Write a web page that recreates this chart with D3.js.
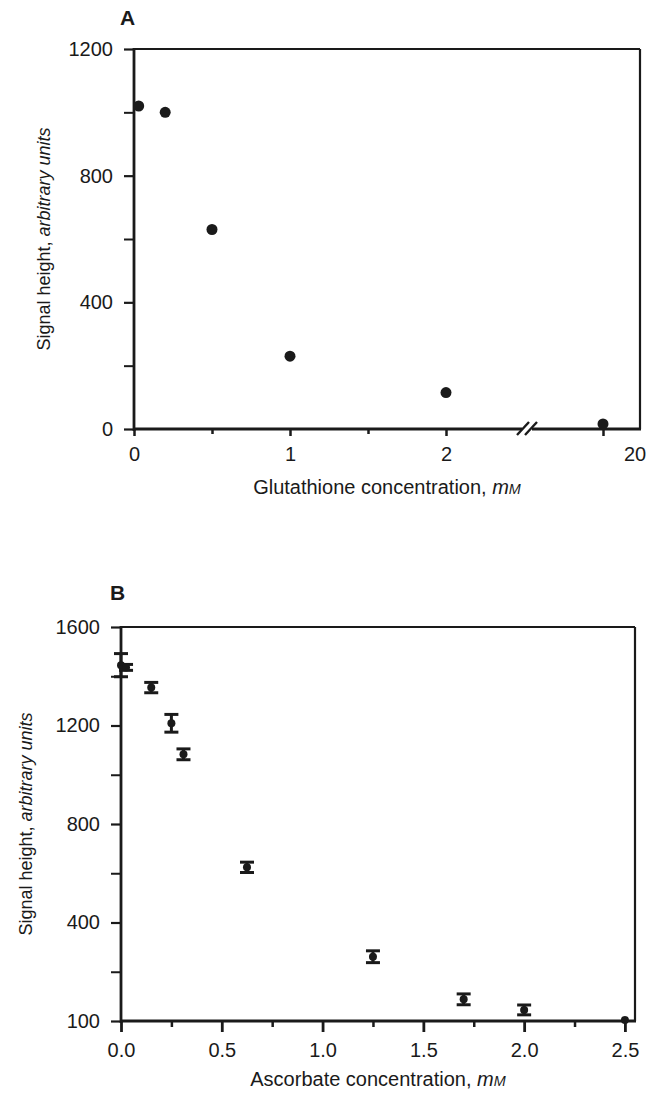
<!DOCTYPE html>
<html><head><meta charset="utf-8">
<script src="https://cdn.jsdelivr.net/npm/d3@7"></script>
<style>
body{margin:0;background:#fff}
text{font-family:"Liberation Sans",Arial,Helvetica,sans-serif;fill:#1a1a1a}
</style>
</head><body><svg id="c" width="661" height="1094"></svg>
<script>
// ---- Panel A data ----
const glutConc = [0.03, 0.2, 0.5, 1.0, 2.0, 20];
const glutSignal = [1020, 1000, 630, 230, 115, 16];
const glutYTicks = [0, 400, 800, 1200];
const glutYMinor = [200, 600, 1000];
const glutXTicks = [0, 1, 2];
const glutXMinor = [0.5, 1.5];
const glutXBreakTick = [20];
const glutXBreakLabel = ["20"];

// ---- Panel B data ----
const ascConc = [0, 0.025, 0.15, 0.25, 0.31, 0.625, 1.25, 1.7, 2.0, 2.5];
const ascSignal = [1445, 1436, 1354, 1209, 1083, 624, 261, 88, 45, 4];
const ascErr = [47, 12, 21, 36, 22, 21, 24, 22, 20, 0];
const ascYTickValues = [0, 400, 800, 1200, 1600];
const ascYTickLabels = ["100", "400", "800", "1200", "1600"];
const ascYMinor = [200, 600, 1000, 1400];
const ascXTicks = [0, 0.5, 1, 1.5, 2, 2.5];
const ascXMinor = [0.25, 0.75, 1.25, 1.75, 2.25];

const svg = d3.select("#c");
const ink = "#1a1a1a";
const FS = 20;      // tick labels
const FT = 20;      // x titles
const FY = 18;      // y titles
const FP = 21;      // panel letters

function styleAxis(g, sw) {
  g.selectAll("path.domain").remove();
  g.selectAll("line").attr("stroke", ink).attr("stroke-width", sw);
  g.selectAll("text").attr("font-size", FS).attr("fill", ink);
}

// ================= Panel A =================
const A = {l: 134, r: 640, t: 49, b: 429};
const xA = d3.scaleLinear().domain([0, 2.5]).range([A.l, A.l + 2.5 * 156]);
const xA2 = d3.scaleLinear().domain([19, 21]).range([566, 640]);
const yA = d3.scaleLinear().domain([0, 1200]).range([A.b, A.t]);
const gA = svg.append("g");

gA.append("line").attr("x1", A.l).attr("x2", A.r).attr("y1", A.t).attr("y2", A.t).attr("stroke", ink).attr("stroke-width", 2);
gA.append("line").attr("x1", A.r).attr("x2", A.r).attr("y1", A.t).attr("y2", A.b).attr("stroke", ink).attr("stroke-width", 2.2);

gA.append("g").attr("transform", `translate(${A.l},0)`)
  .call(d3.axisLeft(yA).tickValues(glutYTicks).tickSize(10).tickPadding(11).tickFormat(d3.format("d")))
  .call(g => styleAxis(g, 2.2));
gA.append("g").attr("transform", `translate(${A.l},0)`)
  .call(d3.axisLeft(yA).tickValues(glutYMinor).tickSize(10).tickFormat(""))
  .call(g => styleAxis(g, 2));
gA.append("line").attr("x1", A.l).attr("x2", A.l).attr("y1", A.t - 1).attr("y2", A.b + 2).attr("stroke", ink).attr("stroke-width", 2.8);

gA.append("g").attr("transform", `translate(0,${A.b})`)
  .call(d3.axisBottom(xA).tickValues(glutXTicks).tickSize(7).tickPadding(11).tickFormat(d3.format("d")))
  .call(g => styleAxis(g, 2.5));
gA.append("g").attr("transform", `translate(0,${A.b})`)
  .call(d3.axisBottom(xA).tickValues(glutXMinor).tickSize(5).tickFormat(""))
  .call(g => styleAxis(g, 2.5));
gA.append("g").attr("transform", `translate(0,${A.b})`)
  .call(d3.axisBottom(xA2).tickValues(glutXBreakTick).tickSize(7).tickFormat(""))
  .call(g => styleAxis(g, 2.5));
gA.selectAll(null).data(glutXBreakTick).enter().append("text")
  .attr("x", d => xA2(d) + 32).attr("y", A.b + 18).attr("dy", "0.71em").attr("text-anchor", "middle")
  .attr("font-size", FS).text((d, i) => glutXBreakLabel[i]);
const brk = xA(2.5) + 3;
gA.append("line").attr("x1", A.l).attr("x2", brk - 5).attr("y1", A.b).attr("y2", A.b).attr("stroke", ink).attr("stroke-width", 2.8);
gA.append("line").attr("x1", brk + 5).attr("x2", A.r + 1).attr("y1", A.b).attr("y2", A.b).attr("stroke", ink).attr("stroke-width", 2.8);
[-4, 4].forEach(dx => {
  gA.append("line").attr("x1", brk + dx - 6).attr("x2", brk + dx + 6).attr("y1", A.b + 6).attr("y2", A.b - 7)
    .attr("stroke", ink).attr("stroke-width", 2.4);
});

gA.selectAll("circle.pt").data(glutConc).enter().append("circle")
  .attr("cx", d => d > 2.5 ? xA2(d) : xA(d))
  .attr("cy", (d, i) => yA(glutSignal[i]))
  .attr("r", 5.5).attr("fill", ink);

gA.append("text").attr("x", 120).attr("y", 25).attr("font-size", FP).attr("font-weight", "bold").text("A");
const tA = gA.append("text").attr("x", (A.l + A.r) / 2).attr("y", 494).attr("text-anchor", "middle").attr("font-size", FT);
tA.append("tspan").text("Glutathione concentration, ");
tA.append("tspan").attr("font-style", "italic").text("m");
tA.append("tspan").attr("font-style", "italic").attr("font-size", FT * 0.72).text("M");
const yAl = gA.append("text").attr("transform", `translate(50,${(A.t + A.b) / 2}) rotate(-90)`).attr("text-anchor", "middle").attr("font-size", FY);
yAl.append("tspan").text("Signal height, ");
yAl.append("tspan").attr("font-style", "italic").text("arbitrary units");

// ================= Panel B =================
const B = {l: 121, r: 635, t: 627, b: 1021};
const xB = d3.scaleLinear().domain([0, 2.55]).range([B.l, B.r]);
const yB = d3.scaleLinear().domain([0, 1600]).range([B.b, B.t]);
const gB = svg.append("g");

gB.append("line").attr("x1", B.l).attr("x2", B.r).attr("y1", B.t).attr("y2", B.t).attr("stroke", ink).attr("stroke-width", 2);
gB.append("line").attr("x1", B.r).attr("x2", B.r).attr("y1", B.t).attr("y2", B.b).attr("stroke", ink).attr("stroke-width", 2.2);

gB.append("g").attr("transform", `translate(${B.l},0)`)
  .call(d3.axisLeft(yB).tickValues(ascYTickValues).tickSize(10).tickPadding(11).tickFormat((d, i) => ascYTickLabels[i]))
  .call(g => styleAxis(g, 2.2));
gB.append("g").attr("transform", `translate(${B.l},0)`)
  .call(d3.axisLeft(yB).tickValues(ascYMinor).tickSize(10).tickFormat(""))
  .call(g => styleAxis(g, 2));
gB.append("line").attr("x1", B.l).attr("x2", B.l).attr("y1", B.t - 1).attr("y2", B.b + 2).attr("stroke", ink).attr("stroke-width", 2.8);

gB.append("g").attr("transform", `translate(0,${B.b})`)
  .call(d3.axisBottom(xB).tickValues(ascXTicks).tickSize(11).tickPadding(11).tickFormat(d3.format(".1f")))
  .call(g => styleAxis(g, 2.8));
gB.append("g").attr("transform", `translate(0,${B.b})`)
  .call(d3.axisBottom(xB).tickValues(ascXMinor).tickSize(6).tickFormat(""))
  .call(g => styleAxis(g, 2.5));
gB.append("line").attr("x1", B.l).attr("x2", B.r + 1).attr("y1", B.b).attr("y2", B.b).attr("stroke", ink).attr("stroke-width", 2.8);

const eb = gB.selectAll("g.eb").data(ascConc).enter().append("g");
eb.append("line").attr("x1", d => xB(d)).attr("x2", d => xB(d))
  .attr("y1", (d, i) => yB(ascSignal[i] + ascErr[i])).attr("y2", (d, i) => yB(ascSignal[i] - ascErr[i]))
  .attr("stroke", ink).attr("stroke-width", 3);
eb.each(function (d, i) {
  if (ascErr[i] <= 0) return;
  const g = d3.select(this);
  [ascSignal[i] + ascErr[i], ascSignal[i] - ascErr[i]].forEach(v => {
    g.append("line").attr("x1", xB(d) - 7).attr("x2", xB(d) + 7).attr("y1", yB(v)).attr("y2", yB(v))
      .attr("stroke", ink).attr("stroke-width", 3);
  });
});
eb.append("circle").attr("cx", d => xB(d)).attr("cy", (d, i) => yB(ascSignal[i])).attr("r", 4).attr("fill", ink);

gB.append("text").attr("x", 110).attr("y", 600).attr("font-size", FP).attr("font-weight", "bold").text("B");
const tB = gB.append("text").attr("x", (B.l + B.r) / 2).attr("y", 1086).attr("text-anchor", "middle").attr("font-size", FT);
tB.append("tspan").text("Ascorbate concentration, ");
tB.append("tspan").attr("font-style", "italic").text("m");
tB.append("tspan").attr("font-style", "italic").attr("font-size", FT * 0.72).text("M");
const yBl = gB.append("text").attr("transform", `translate(32,${(B.t + B.b) / 2}) rotate(-90)`).attr("text-anchor", "middle").attr("font-size", FY);
yBl.append("tspan").text("Signal height, ");
yBl.append("tspan").attr("font-style", "italic").text("arbitrary units");
</script>
</body></html>
